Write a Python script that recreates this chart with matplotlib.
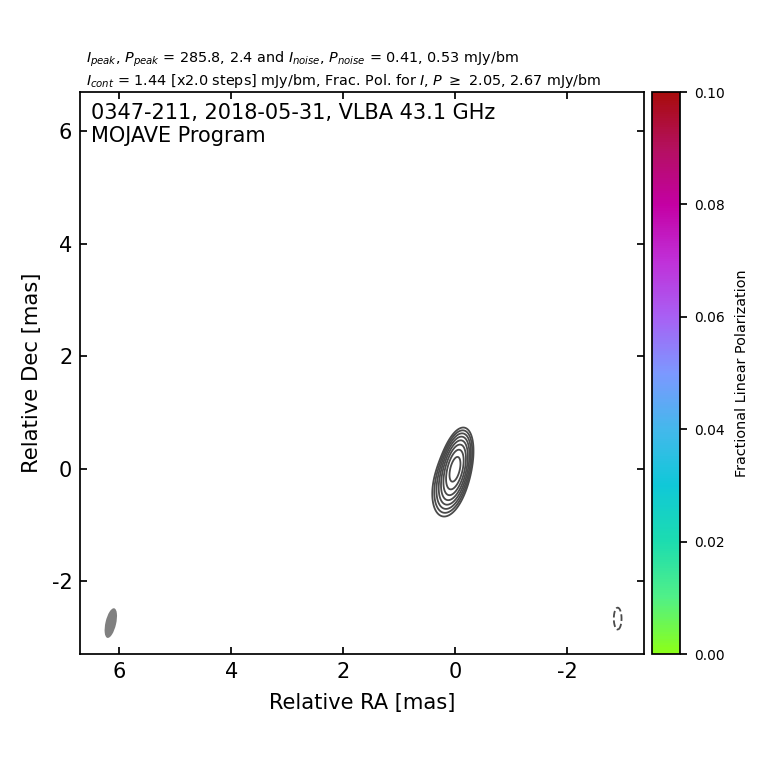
import numpy as np
import matplotlib
matplotlib.use('Agg')
import matplotlib.pyplot as plt
from matplotlib.colors import LinearSegmentedColormap, Normalize
from matplotlib.cm import ScalarMappable
from matplotlib.patches import Ellipse

# source model: flux, RA, Dec, sigma major, sigma minor, PA (deg)
comp_flux = [275.0, 26.0, -2.0]
comp_ra = [0.0, 0.1, -2.9]
comp_dec = [0.0, -0.25, -2.67]
comp_smaj = [0.23, 0.25, 0.24]
comp_smin = [0.088, 0.118, 0.085]
comp_pa = [-13.0, -13.0, 0.0]

cont_base = 1.44
cont_steps = [-1, 1, 2, 4, 8, 16, 32, 64, 128]

beam_ra = 6.15
beam_dec = -2.75
beam_maj = 0.54
beam_min = 0.19
beam_pa = 13.0

cbar_vals = [0.0, 0.02, 0.04, 0.06, 0.08, 0.10]
cbar_pos = [0.0, 0.1, 0.2, 0.3, 0.4, 0.5, 0.6, 0.7, 0.8, 0.9, 1.0]
cbar_cols = ['#8cff18', '#50f088', '#1cdcb0', '#10c8d8', '#44b8ec', '#7c98ff',
             '#a860f4', '#c030d8', '#c400a4', '#b41060', '#a80c0c']

plt.rcParams['font.size'] = 15

fig = plt.figure(figsize=(7.6, 7.6), dpi=100)
ax = fig.add_axes([80/760, 1-654/760, 564/760, 562/760])
cax = fig.add_axes([652/760, 1-654/760, 28/760, 562/760])

ra = np.linspace(-3.37, 6.7, 1000)
dec = np.linspace(-3.3, 6.7, 1000)
xx, yy = np.meshgrid(ra, dec)
img = np.zeros_like(xx)
for f, x0, y0, sj, sn, pa in zip(comp_flux, comp_ra, comp_dec, comp_smaj, comp_smin, comp_pa):
    t = np.radians(pa)
    # PA measured from north through east (east = +RA)
    u = (xx-x0)*np.sin(t) + (yy-y0)*np.cos(t)
    v = (xx-x0)*np.cos(t) - (yy-y0)*np.sin(t)
    img += f*np.exp(-0.5*(u/sj)**2 - 0.5*(v/sn)**2)

levels = [cont_base*s for s in cont_steps]
ax.contour(xx, yy, img, levels=levels, colors='#4a4a4a', linewidths=1.3)

ax.add_patch(Ellipse((beam_ra, beam_dec), beam_min, beam_maj, angle=beam_pa,
                     fc='gray', ec='none'))

ax.set_xlim(6.7, -3.37)
ax.set_ylim(-3.3, 6.7)
ax.set_xticks([6, 4, 2, 0, -2])
ax.set_xticklabels(['6', '4', '2', '0', '-2'])
ax.set_yticks([-2, 0, 2, 4, 6])
ax.set_yticklabels(['-2', '0', '2', '4', '6'])
ax.tick_params(direction='in', top=True, right=True, length=5, width=1.25, labelsize=15, pad=5.5)
for sp in ax.spines.values():
    sp.set_linewidth(1.25)
ax.set_xlabel('Relative RA [mas]', fontsize=15.1, labelpad=8)
ax.set_ylabel('Relative Dec [mas]', fontsize=15.2, labelpad=7)

ax.text(0.02, 0.98, '0347-211, 2018-05-31, VLBA 43.1 GHz\nMOJAVE Program',
        transform=ax.transAxes, ha='left', va='top', fontsize=15, linespacing=1.15)
fig.text(86.5/760, 1-63/760,
         r'$I_{peak}$, $P_{peak}$ = 285.8, 2.4 and $I_{noise}$, $P_{noise}$ = 0.41, 0.53 mJy/bm',
         fontsize=10.4, ha='left', va='baseline')
fig.text(86.5/760, 1-85/760,
         r'$I_{cont}$ = 1.44 [x2.0 steps] mJy/bm, Frac. Pol. for $I$, $P$ $\geq$ 2.05, 2.67 mJy/bm',
         fontsize=10.4, ha='left', va='baseline')

cmap = LinearSegmentedColormap.from_list('fracpol', list(zip(cbar_pos, cbar_cols)))
cb = fig.colorbar(ScalarMappable(Normalize(0, 0.1), cmap), cax=cax)
cb.set_ticks(cbar_vals)
cb.set_ticklabels(['%.2f' % v for v in cbar_vals])
cb.ax.tick_params(labelsize=10, length=5, width=1.25, direction='out', pad=5)
cb.outline.set_linewidth(1.25)
cb.set_label('Fractional Linear Polarization', fontsize=10.4, labelpad=7.5)

fig.savefig('out.png', dpi=100)
